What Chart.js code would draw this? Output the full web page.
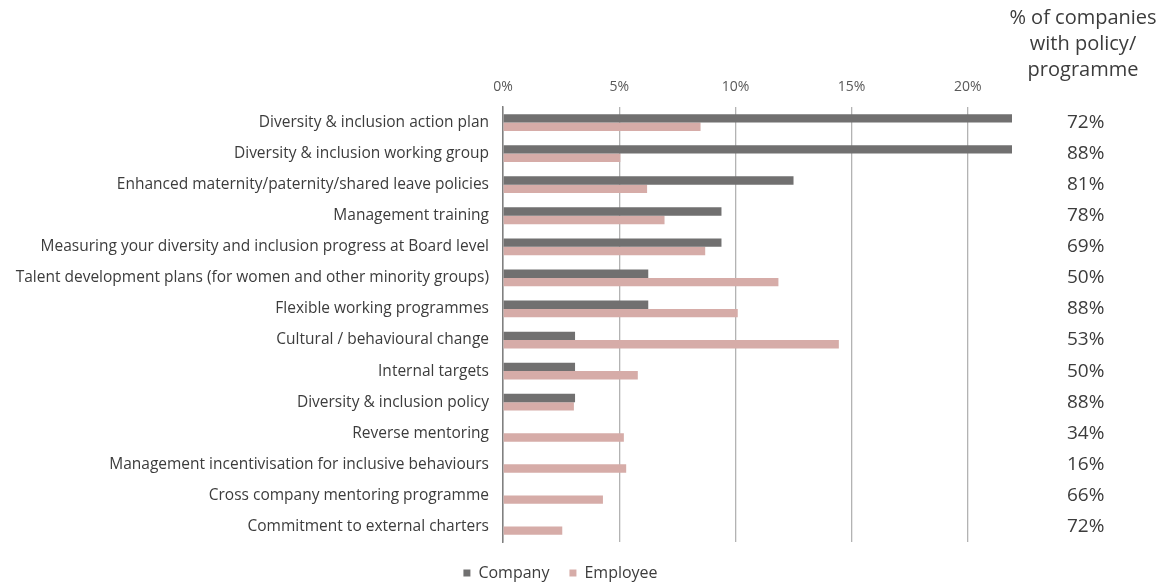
<!DOCTYPE html>
<html>
<head>
<meta charset="utf-8">
<script src="https://cdn.jsdelivr.net/npm/chart.js@4.4.1/dist/chart.umd.min.js"></script>
<style>
  html, body { margin: 0; padding: 0; background: #ffffff; }
  #wrap { width: 1171px; height: 584px; position: relative; }
</style>
</head>
<body>
<div id="wrap"><canvas id="c" width="1171" height="584"></canvas></div>
<script>
const categories = [
  "Diversity & inclusion action plan",
  "Diversity & inclusion working group",
  "Enhanced maternity/paternity/shared leave policies",
  "Management training",
  "Measuring your diversity and inclusion progress at Board level",
  "Talent development plans (for women and other minority groups)",
  "Flexible working programmes",
  "Cultural / behavioural change",
  "Internal targets",
  "Diversity & inclusion policy",
  "Reverse mentoring",
  "Management incentivisation for inclusive behaviours",
  "Cross company mentoring programme",
  "Commitment to external charters"
];
const companyValues = [21.9, 21.9, 12.5, 9.4, 9.4, 6.25, 6.25, 3.1, 3.1, 3.1, 0, 0, 0, 0];
const employeeValues = [8.5, 5.05, 6.2, 6.95, 8.7, 11.85, 10.1, 14.45, 5.8, 3.05, 5.2, 5.3, 4.3, 2.55];
const policyShare = ["72%", "88%", "81%", "78%", "69%", "50%", "88%", "53%", "50%", "88%", "34%", "16%", "66%", "72%"];
const xTicks = [0, 5, 10, 15, 20];
const headerLines = ["% of companies", "with policy/", "programme"];

const FONT = "'Open Sans', 'Liberation Sans', Arial, sans-serif";
const TEXT = "#3c3c3c";

const headerPlugin = {
  id: 'header',
  beforeLayout(chart) {
    const lg = chart.legend;
    if (lg && !lg._fixedFit) {
      const orig = lg.fit.bind(lg);
      lg.fit = function () { orig(); this.height = 42; };
      lg._fixedFit = true;
    }
  },
  afterLayout(chart) {
    const lg = chart.legend;
    if (lg) { lg.top += 3; lg.bottom += 3; }
  },
  afterDraw(chart) {
    const s = chart.scales.y2;
    const ctx = chart.ctx;
    const cx = s.left + 71;
    ctx.save();
    ctx.font = "20px " + FONT;
    ctx.fillStyle = TEXT;
    ctx.textAlign = 'center';
    ctx.textBaseline = 'middle';
    headerLines.forEach((t, i) => ctx.fillText(t, cx, 18 + i * 26));
    ctx.restore();
  }
};

function noVPad(scale) {
  scale.paddingTop = 0;
  scale.paddingBottom = 0;
}

new Chart(document.getElementById('c'), {
  type: 'bar',
  data: {
    labels: categories,
    datasets: [
      { label: 'Company', data: companyValues, backgroundColor: '#717070', categoryPercentage: 0.54, barPercentage: 1.0 },
      { label: 'Employee', data: employeeValues, backgroundColor: '#d6aca8', categoryPercentage: 0.54, barPercentage: 1.0 }
    ]
  },
  options: {
    indexAxis: 'y',
    responsive: false,
    animation: false,
    layout: { padding: { top: 0, left: 0, right: 50, bottom: 0 } },
    plugins: {
      legend: {
        position: 'bottom',
        labels: {
          boxWidth: 7, boxHeight: 7, padding: 20,
          color: TEXT,
          font: { family: FONT, size: 16 }
        }
      },
      tooltip: { enabled: false }
    },
    scales: {
      x: {
        position: 'top',
        min: 0, max: 21.9,
        afterBuildTicks(scale) { scale.ticks = xTicks.map(v => ({ value: v })); },
        afterFit(scale) { scale.height = 107; },
        grid: { color: '#b3b3b3', lineWidth: 1.3, drawTicks: false },
        border: { display: false },
        ticks: {
          padding: 12,
          color: '#595959',
          font: { family: FONT, size: 14 },
          callback: v => v + '%'
        }
      },
      y: {
        position: 'left',
        afterFit(scale) { scale.width = 503; noVPad(scale); },
        grid: { display: false, drawTicks: false },
        border: { display: true, color: '#808080', width: 1.5 },
        ticks: {
          padding: 14,
          color: TEXT,
          font: { family: FONT, size: 15.5 }
        }
      },
      y2: {
        type: 'category',
        position: 'right',
        labels: policyShare,
        offset: true,
        afterFit(scale) { scale.width = 109; noVPad(scale); },
        grid: { display: false, drawTicks: false },
        border: { display: false },
        ticks: {
          padding: 55,
          crossAlign: 'center',
          color: TEXT,
          font: { family: FONT, size: 19 }
        }
      }
    }
  },
  plugins: [headerPlugin]
});
</script>
</body>
</html>
